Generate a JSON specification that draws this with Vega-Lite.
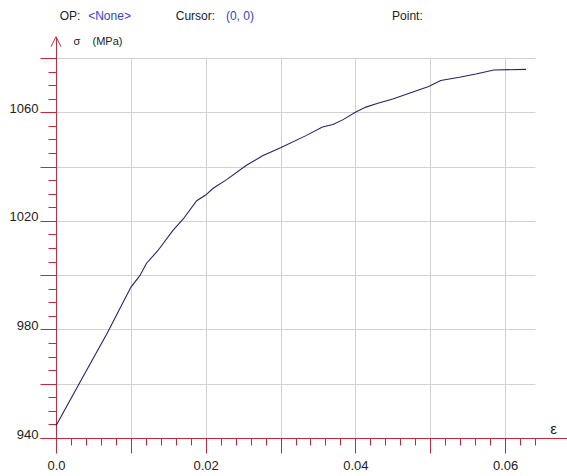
{
  "$schema": "https://vega.github.io/schema/vega-lite/v6.json",
  "width": 479,
  "height": 380,
  "autosize": "none",
  "padding": {"left": 56, "top": 58, "right": 32, "bottom": 38},
  "background": "white",
  "config": {
    "font": "Liberation Sans",
    "view": {"stroke": null},
    "axis": {
      "domainColor": "#c8283c",
      "domainWidth": 1,
      "tickColor": "#c8283c",
      "tickWidth": 1,
      "gridColor": "#d2d2d2",
      "gridWidth": 1,
      "labelColor": "#222222",
      "labelFont": "Liberation Sans",
      "titleFont": "Liberation Sans",
      "titleColor": "#222222",
      "titleFontWeight": "normal",
      "labelOverlap": false,
      "labelFlush": false
    }
  },
  "datasets": {
    "curve": [
      {"eps": 0, "sigma": 944.5},
      {"eps": 0.0032, "sigma": 960.5},
      {"eps": 0.0068, "sigma": 978.4},
      {"eps": 0.01, "sigma": 995.5},
      {"eps": 0.0112, "sigma": 999.8},
      {"eps": 0.0121, "sigma": 1004.4},
      {"eps": 0.0136, "sigma": 1009.0},
      {"eps": 0.0156, "sigma": 1016.4},
      {"eps": 0.017, "sigma": 1020.7},
      {"eps": 0.0188, "sigma": 1027.4},
      {"eps": 0.02, "sigma": 1029.5},
      {"eps": 0.021, "sigma": 1032.0},
      {"eps": 0.0228, "sigma": 1035.2},
      {"eps": 0.0254, "sigma": 1040.4},
      {"eps": 0.0276, "sigma": 1044.0},
      {"eps": 0.03, "sigma": 1046.9},
      {"eps": 0.0334, "sigma": 1051.4},
      {"eps": 0.0356, "sigma": 1054.6},
      {"eps": 0.037, "sigma": 1055.5},
      {"eps": 0.0383, "sigma": 1057.2},
      {"eps": 0.04, "sigma": 1060.0},
      {"eps": 0.0414, "sigma": 1061.9},
      {"eps": 0.043, "sigma": 1063.3},
      {"eps": 0.045, "sigma": 1064.9},
      {"eps": 0.0472, "sigma": 1067.0},
      {"eps": 0.0498, "sigma": 1069.5},
      {"eps": 0.0514, "sigma": 1071.7},
      {"eps": 0.0539, "sigma": 1072.9},
      {"eps": 0.0561, "sigma": 1074.1},
      {"eps": 0.0585, "sigma": 1075.6},
      {"eps": 0.0628, "sigma": 1075.8}
    ],
    "header": [
      {"text": "OP:", "eps": 0.0005, "sigma": 1095.5, "role": "key"},
      {"text": "<None>", "eps": 0.0043, "sigma": 1095.5, "role": "value"},
      {"text": "Cursor:", "eps": 0.016, "sigma": 1095.5, "role": "key"},
      {"text": "(0, 0)", "eps": 0.0227, "sigma": 1095.5, "role": "value"},
      {"text": "Point:", "eps": 0.0449, "sigma": 1095.5, "role": "key"}
    ],
    "arrow": [
      {"eps": 0, "sigma": 1086.0}
    ]
  },
  "encoding": {
    "x": {
      "field": "eps",
      "type": "quantitative",
      "scale": {"domain": [0, 0.064], "nice": false, "zero": false},
      "axis": {
        "title": "ε",
        "titleFontSize": 15,
        "titleX": 497,
        "titleY": -10,
        "titleAlign": "center",
        "titleBaseline": "middle",
        "values": [0, 0.002, 0.004, 0.006, 0.008, 0.01, 0.012, 0.014, 0.016, 0.018, 0.02, 0.022, 0.024, 0.026, 0.028, 0.03, 0.032, 0.034, 0.036, 0.038, 0.04, 0.042, 0.044, 0.046, 0.048, 0.05, 0.052, 0.054, 0.056, 0.058, 0.06, 0.062, 0.064],
        "tickSize": 15,
        "labelFontSize": 13,
        "labelPadding": 6,
        "labelExpr": "datum.value === 0 ? '0.0' : (abs(datum.value*50 - round(datum.value*50)) < 1e-6 ? format(datum.value, '.2f') : '')",
        "gridOpacity": {"condition": {"test": "abs(datum.value*100 - round(datum.value*100)) < 1e-6", "value": 1}, "value": 0},
        "encoding": {
          "ticks": {"y2": {"condition": {"test": "abs(datum.value*100 - round(datum.value*100)) < 1e-6", "value": 15}, "value": 7}},
          "domain": {"x": {"value": -16}, "x2": {"value": {"expr": "width + 32"}}}
        }
      }
    },
    "y": {
      "field": "sigma",
      "type": "quantitative",
      "scale": {"domain": [940, 1080], "nice": false, "zero": false},
      "axis": {
        "title": "σ\u00a0\u00a0\u00a0\u00a0(MPa)",
        "titleFontSize": 11,
        "titleAngle": 0,
        "titleX": 17,
        "titleY": -17,
        "titleAlign": "left",
        "titleBaseline": "middle",
        "values": [940, 945, 950, 955, 960, 965, 970, 975, 980, 985, 990, 995, 1000, 1005, 1010, 1015, 1020, 1025, 1030, 1035, 1040, 1045, 1050, 1055, 1060, 1065, 1070, 1075, 1080],
        "tickSize": 16,
        "labelFontSize": 13,
        "labelPadding": 2,
        "labelBaseline": "alphabetic",
        "format": "d",
        "labelExpr": "(datum.value - 940) % 40 === 0 ? datum.label : ''",
        "gridOpacity": {"condition": {"test": "datum.value % 20 === 0", "value": 1}, "value": 0},
        "encoding": {
          "ticks": {"x2": {"condition": {"test": "datum.value % 20 === 0", "value": -16}, "value": -8}},
          "domain": {"y2": {"value": -21}}
        }
      }
    }
  },
  "layer": [
    {
      "data": {"name": "curve"},
      "mark": {"type": "line", "color": "#23236e", "strokeWidth": 1.1}
    },
    {
      "data": {"name": "arrow"},
      "mark": {"type": "point", "shape": "M-1,1L0,-1L1,1", "size": 100, "filled": false, "color": "#c8283c", "strokeWidth": 1, "opacity": 1}
    },
    {
      "data": {"name": "header"},
      "mark": {"type": "text", "align": "left", "baseline": "middle", "fontSize": 12, "font": "Liberation Sans"},
      "encoding": {
        "text": {"field": "text"},
        "color": {"field": "role", "type": "nominal", "scale": {"domain": ["key", "value"], "range": ["#222222", "#3344cc"]}, "legend": null}
      }
    }
  ]
}
